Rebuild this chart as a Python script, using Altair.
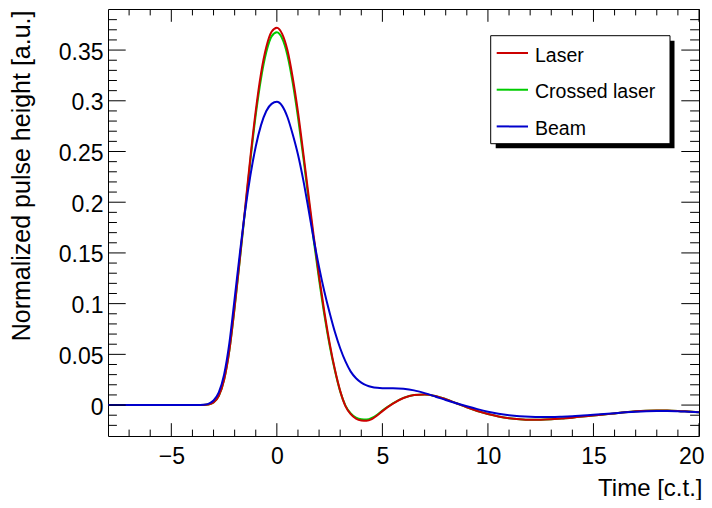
import altair as alt
import pandas as pd

# ---------------- data ----------------
time = [-8, -7, -6, -5, -4.5, -4, -3.75, -3.5, -3.25, -3, -2.75, -2.5, -2.25, -2,
        -1.75, -1.5, -1.25, -1, -0.75, -0.5, -0.25, 0, 0.25, 0.5, 0.75, 1, 1.25,
        1.5, 1.75, 2, 2.25, 2.5, 2.75, 3, 3.25, 3.5, 3.75, 4, 4.25, 4.5, 4.75, 5,
        5.25, 5.5, 6, 6.5, 7, 7.5, 8, 8.5, 9, 9.5, 10, 10.5, 11, 11.5, 12, 12.5,
        13, 13.5, 14, 14.5, 15, 15.5, 16, 16.5, 17, 17.5, 18, 18.5, 19, 19.5, 20]

laser = [0, 0, 0, 0, 0, 0, 0, 0.0001, 0.0006, 0.0025, 0.009, 0.025, 0.054, 0.097,
         0.145, 0.195, 0.245, 0.290, 0.327, 0.353, 0.368, 0.372, 0.366, 0.350, 0.323,
         0.289, 0.249, 0.207, 0.166, 0.127, 0.092, 0.061, 0.035, 0.014, -0.001,
         -0.009, -0.0135, -0.0152, -0.0155, -0.0138, -0.0103, -0.0060, -0.0020,
         0.0015, 0.0070, 0.0100, 0.0105, 0.0090, 0.0058, 0.0018, -0.0022, -0.0058,
         -0.0088, -0.0112, -0.0129, -0.0139, -0.0144, -0.0144, -0.0140, -0.0132,
         -0.0124, -0.0114, -0.0103, -0.0093, -0.0082, -0.0071, -0.0062, -0.0056,
         -0.0053, -0.0054, -0.0058, -0.0064, -0.0070]

crossed = [0, 0, 0, 0, 0, 0, 0, 0.0001, 0.0006, 0.0025, 0.009, 0.025, 0.054, 0.096,
           0.144, 0.193, 0.242, 0.286, 0.322, 0.348, 0.3635, 0.3675, 0.3615, 0.345,
           0.318, 0.284, 0.245, 0.203, 0.162, 0.124, 0.089, 0.059, 0.034, 0.0135,
           -0.0005, -0.0083, -0.0125, -0.0141, -0.0143, -0.0127, -0.0095, -0.0055,
           -0.0017, 0.0017, 0.0071, 0.0100, 0.0105, 0.0090, 0.0058, 0.0018, -0.0022,
           -0.0058, -0.0088, -0.0112, -0.0129, -0.0139, -0.0144, -0.0144, -0.0140,
           -0.0132, -0.0124, -0.0114, -0.0103, -0.0093, -0.0082, -0.0071, -0.0062,
           -0.0056, -0.0053, -0.0054, -0.0058, -0.0064, -0.0070]

beam = [0, 0, 0, 0, 0, 0, 0, 0.0003, 0.0012, 0.0045, 0.0125, 0.030, 0.061, 0.105,
        0.150, 0.192, 0.227, 0.255, 0.276, 0.290, 0.297, 0.299, 0.295, 0.284, 0.267,
        0.247, 0.222, 0.193, 0.163, 0.136, 0.112, 0.091, 0.072, 0.056, 0.043, 0.033,
        0.0265, 0.0222, 0.0194, 0.0178, 0.0170, 0.0166, 0.0165, 0.0165, 0.0160,
        0.0145, 0.0118, 0.0085, 0.0050, 0.0018, -0.0012, -0.0040, -0.0065, -0.0085,
        -0.0100, -0.0110, -0.0116, -0.0118, -0.0118, -0.0115, -0.0110, -0.0103,
        -0.0096, -0.0088, -0.0080, -0.0072, -0.0065, -0.0060, -0.0058, -0.0058,
        -0.0061, -0.0066, -0.0071]

series = ["Laser", "Crossed laser", "Beam"]
colors = ["#cc0000", "#00cc00", "#0000cc"]

x_major = [-5, 0, 5, 10, 15, 20]
x_minor = [v for v in range(-7, 20) if v % 5 != 0]
y_major = [0, 0.05, 0.1, 0.15, 0.2, 0.25, 0.3, 0.35]
y_minor = [round(k * 0.01, 2) for k in range(-2, 39) if k % 5 != 0]

# ---------------- layout / style ----------------
W, H = 591, 427
FONT = "Liberation Sans"
xs = alt.Scale(domain=[-8, 20], nice=False, zero=False)
ys = alt.Scale(domain=[-0.0305, 0.3905], nice=False, zero=False)

x_axis = alt.Axis(values=x_major, format="~g", ticks=False, tickSize=0, domain=False,
                  grid=False, labelFontSize=23, labelPadding=9, labelFont=FONT,
                  labelColor="black", labelFlush=True, labelFlushOffset=5,
                  labelOverlap=False, labelBound=False,
                  title="Time [c.t.]", titleFont=FONT,
                  titleFontSize=24, titleFontWeight="normal", titleColor="black",
                  titleX=594, titleY=59.5, titleAlign="right",
                  titleBaseline="alphabetic")
y_axis = alt.Axis(values=y_major, format="~g", ticks=False, tickSize=0, domain=False,
                  grid=False, labelFontSize=23, labelPadding=5, labelFont=FONT,
                  labelColor="black", labelOffset=2, labelFlush=False,
                  labelOverlap=False, labelBound=False,
                  title="Normalized pulse height [a.u.]", titleFont=FONT,
                  titleFontSize=25, titleFontWeight="normal", titleColor="black",
                  titleX=-79, titleY=1, titleAngle=270, titleAlign="right",
                  titleBaseline="alphabetic")

layers = []

# curves (drawn green, red, blue so that red covers green and blue is on top)
draw_order = [1, 0, 2]
vals = [laser, crossed, beam]
for i in draw_order:
    df = pd.DataFrame({"time": time, "value": vals[i]})
    layers.append(
        alt.Chart(df).mark_line(color=colors[i], strokeWidth=2, interpolate="monotone",
                                clip=True).encode(
            x=alt.X("time:Q", scale=xs, axis=x_axis),
            y=alt.Y("value:Q", scale=ys, axis=y_axis),
        )
    )

# inward ticks on all four sides (ROOT style)
def xticks(vals_, length):
    d = pd.DataFrame({"v": vals_})
    out = []
    for y0, y1 in [(H, H - length), (0, length)]:
        out.append(alt.Chart(d).mark_rule(color="black", strokeWidth=1).encode(
            x=alt.X("v:Q", scale=xs, axis=x_axis), y=alt.value(y0), y2=alt.value(y1)))
    return out

def yticks(vals_, length):
    d = pd.DataFrame({"v": vals_})
    out = []
    for x0, x1 in [(0, length), (W, W - length)]:
        out.append(alt.Chart(d).mark_rule(color="black", strokeWidth=1).encode(
            y=alt.Y("v:Q", scale=ys, axis=y_axis), x=alt.value(x0), x2=alt.value(x1)))
    return out

layers += xticks(x_major, 12.8) + xticks(x_minor, 6.4)
layers += yticks(y_major, 17.7) + yticks(y_minor, 8.9)

# legend box with shadow
one = pd.DataFrame({"k": [0]})
bx0, bx1, by0, by1 = 382.7, 562, 26.7, 134.7
layers.append(alt.Chart(one).mark_rect(color="black").encode(
    x=alt.value(bx0 + 5), x2=alt.value(bx1 + 4.5),
    y=alt.value(by0 + 5), y2=alt.value(by1 + 4.5)))
layers.append(alt.Chart(one).mark_rect(fill="white", stroke="black", strokeWidth=1).encode(
    x=alt.value(bx0), x2=alt.value(bx1), y=alt.value(by0), y2=alt.value(by1)))
for i, (name, col) in enumerate(zip(series, colors)):
    ly = 44 + 36.7 * i
    layers.append(alt.Chart(one).mark_rule(color=col, strokeWidth=2).encode(
        x=alt.value(388.7), x2=alt.value(420), y=alt.value(ly)))
    layers.append(alt.Chart(one).mark_text(text=name, align="left", baseline="middle",
                                           fontSize=19.5, font=FONT, color="black").encode(
        x=alt.value(427), y=alt.value(ly + 2.5)))

chart = alt.layer(*layers).properties(
    width=W, height=H,
    padding={"left": 100, "top": 1, "right": 5, "bottom": 64},
    autosize=alt.AutoSizeParams(type="none"),
    background="white",
).configure_view(stroke="black", strokeWidth=1)

chart.save("out.html", embed_options={"renderer": "svg", "actions": False})
